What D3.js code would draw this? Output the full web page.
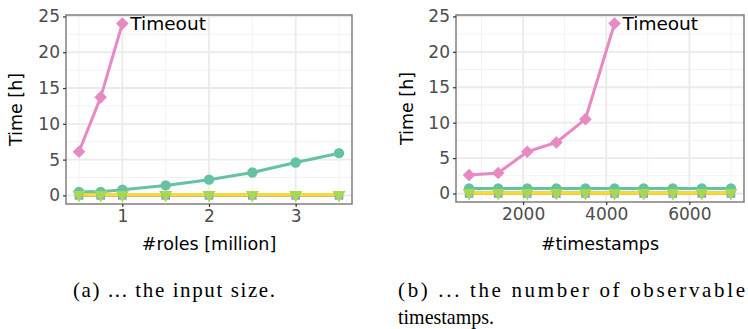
<!DOCTYPE html>
<html>
<head>
<meta charset="utf-8">
<script src="https://cdn.jsdelivr.net/npm/d3@7"></script>
<style>
  body { margin: 0; background: #fff; }
  svg { display: block; }
</style>
</head>
<body>
<svg id="chart" width="748" height="329"></svg>
<script>
const SVG = d3.select('#chart');
const TICK_FONT = 'DejaVu Sans, sans-serif';
const CAPTION_FONT = 'Liberation Serif, serif';

// DATA
const rolesX = [0.5, 0.75, 1, 1.5, 2, 2.5, 3, 3.5];
const rolesPink = [6.1, 13.7, 24];
const rolesGreen = [0.5, 0.5, 0.8, 1.4, 2.2, 3.2, 4.6, 5.9];
const rolesBlue = [0, 0, 0, 0, 0, 0, 0, 0];
const rolesYellow = [0.05, 0.05, 0.05, 0.05, 0.05, 0.05, 0.05, 0.05];
const rolesLime = [0.1, 0.1, 0.1, 0.1, 0.1, 0.1, 0.1, 0.1];

const stampsX = [700, 1400, 2100, 2800, 3500, 4200, 4900, 5600, 6300, 7000];
const stampsPink = [2.6, 2.9, 5.9, 7.2, 10.5, 24];
const stampsGreen = [0.7, 0.7, 0.7, 0.7, 0.7, 0.7, 0.7, 0.7, 0.7, 0.7];
const stampsBlue = [0, 0, 0, 0, 0, 0, 0, 0, 0, 0];
const stampsYellow = [0.05, 0.05, 0.05, 0.05, 0.05, 0.05, 0.05, 0.05, 0.05, 0.05];
const stampsLime = [0.1, 0.1, 0.1, 0.1, 0.1, 0.1, 0.1, 0.1, 0.1, 0.1];

const yTicks = [0, 5, 10, 15, 20, 25];
const rolesTicks = [1, 2, 3];
const stampsTicks = [2000, 4000, 6000];

const COLORS = {
  green: '#66c2a5',
  blue: '#8da0cb',
  pink: '#e78ac3',
  lime: '#a6d854',
  yellow: '#ffd92f'
};

function drawPanel(opt) {
  const g = SVG.append('g');
  const x = d3.scaleLinear().domain(opt.xDomain).range([opt.left, opt.right]);
  const y = d3.scaleLinear().domain([-1.2, 25.2]).range([opt.bottom, opt.top]);

  // minor grid
  const yMinor = [2.5, 7.5, 12.5, 17.5, 22.5];
  g.selectAll('.xminor').data(opt.xMinor).join('line')
    .attr('x1', d => x(d)).attr('x2', d => x(d))
    .attr('y1', opt.top).attr('y2', opt.bottom)
    .attr('stroke', '#f2f2f2').attr('stroke-width', 1);
  g.selectAll('.yminor').data(yMinor).join('line')
    .attr('x1', opt.left).attr('x2', opt.right)
    .attr('y1', d => y(d)).attr('y2', d => y(d))
    .attr('stroke', '#f2f2f2').attr('stroke-width', 1);
  // major grid
  g.selectAll('.xmajor').data(opt.xTicks).join('line')
    .attr('x1', d => x(d)).attr('x2', d => x(d))
    .attr('y1', opt.top).attr('y2', opt.bottom)
    .attr('stroke', '#ebebeb').attr('stroke-width', 1.8);
  g.selectAll('.ymajor').data(yTicks).join('line')
    .attr('x1', opt.left).attr('x2', opt.right)
    .attr('y1', d => y(d)).attr('y2', d => y(d))
    .attr('stroke', '#ebebeb').attr('stroke-width', 1.8);

  const line = d3.line().x(d => x(d[0])).y(d => y(d[1]));
  const zip = (xs, ys) => ys.map((v, i) => [xs[i], v]);

  const series = [
    { key: 'green', data: zip(opt.xs, opt.green), shape: d3.symbolCircle, size: 85 },
    { key: 'blue', data: zip(opt.xs, opt.blue), shape: d3.symbolSquare, size: 75 },
    { key: 'pink', data: zip(opt.xs, opt.pink), shape: d3.symbolSquare, size: 80, rot: 45 },
    { key: 'lime', data: zip(opt.xs, opt.lime), shape: d3.symbolTriangle, size: 75, rot: 180 },
    { key: 'yellow', data: zip(opt.xs, opt.yellow), shape: null }
  ];

  series.forEach(s => {
    g.append('path')
      .datum(s.data)
      .attr('d', line)
      .attr('fill', 'none')
      .attr('stroke', COLORS[s.key])
      .attr('stroke-width', 3);
  });

  series.filter(s => s.shape).forEach(s => {
    g.selectAll(null).data(s.data).join('path')
      .attr('d', d3.symbol().type(s.shape).size(s.size))
      .attr('transform', d => `translate(${x(d[0])},${y(d[1])})` + (s.rot ? ` rotate(${s.rot})` : ''))
      .attr('fill', COLORS[s.key]);
  });

  // timeout label
  const last = series[2].data[series[2].data.length - 1];
  g.append('text')
    .attr('x', x(last[0]) + 8)
    .attr('y', y(last[1]))
    .attr('dy', '0.36em')
    .attr('font-family', TICK_FONT)
    .attr('font-size', 18.5)
    .attr('fill', '#000')
    .text('Timeout');

  // border
  g.append('rect')
    .attr('x', opt.left).attr('y', opt.top)
    .attr('width', opt.right - opt.left).attr('height', opt.bottom - opt.top)
    .attr('fill', 'none').attr('stroke', '#7f7f7f').attr('stroke-width', 1.5);

  // y axis
  const yAxis = g.append('g')
    .attr('transform', `translate(${opt.left},0)`)
    .call(d3.axisLeft(y).tickValues(yTicks).tickSize(3).tickPadding(3));
  yAxis.select('.domain').remove();
  yAxis.selectAll('line').attr('stroke', '#333').attr('stroke-width', 1.2);
  yAxis.selectAll('text')
    .attr('font-family', TICK_FONT).attr('font-size', 17).attr('fill', '#4d4d4d');

  // x axis
  const xAxis = g.append('g')
    .attr('transform', `translate(0,${opt.bottom})`)
    .call(d3.axisBottom(x).tickValues(opt.xTicks).tickFormat(d3.format('d')).tickSize(3).tickPadding(3));
  xAxis.select('.domain').remove();
  xAxis.selectAll('line').attr('stroke', '#333').attr('stroke-width', 1.2);
  xAxis.selectAll('text')
    .attr('font-family', TICK_FONT).attr('font-size', 17).attr('fill', '#4d4d4d');

  // axis titles
  g.append('text')
    .attr('x', (opt.left + opt.right) / 2)
    .attr('y', 250)
    .attr('text-anchor', 'middle')
    .attr('font-family', TICK_FONT).attr('font-size', 17.5)
    .text(opt.xTitle);
  g.append('text')
    .attr('transform', `translate(${opt.yTitleX},${(opt.top + opt.bottom) / 2}) rotate(-90)`)
    .attr('text-anchor', 'middle')
    .attr('font-family', TICK_FONT).attr('font-size', 17.5)
    .text('Time [h]');
}

drawPanel({
  left: 66, right: 352, top: 15, bottom: 204,
  xDomain: [0.35, 3.65],
  xs: rolesX,
  pink: rolesPink, green: rolesGreen, blue: rolesBlue, yellow: rolesYellow, lime: rolesLime,
  xTicks: rolesTicks,
  xMinor: [0.5, 1.5, 2.5, 3.5],
  xTitle: '#roles [million]',
  yTitleX: 22
});

drawPanel({
  left: 456, right: 744, top: 15, bottom: 202,
  xDomain: [385, 7315],
  xs: stampsX,
  pink: stampsPink, green: stampsGreen, blue: stampsBlue, yellow: stampsYellow, lime: stampsLime,
  xTicks: stampsTicks,
  xMinor: [1000, 3000, 5000, 7000],
  xTitle: '#timestamps',
  yTitleX: 413
});

// captions
SVG.append('text')
  .attr('x', 73).attr('y', 297)
  .attr('font-family', CAPTION_FONT).attr('font-size', 21)
  .attr('textLength', 202).attr('lengthAdjust', 'spacing')
  .text('(a) ... the input size.');
SVG.append('text')
  .attr('x', 398).attr('y', 297)
  .attr('font-family', CAPTION_FONT).attr('font-size', 21)
  .attr('textLength', 347).attr('lengthAdjust', 'spacing')
  .text('(b) ... the number of observable');
SVG.append('text')
  .attr('x', 398).attr('y', 324)
  .attr('font-family', CAPTION_FONT).attr('font-size', 21)
  .attr('textLength', 96).attr('lengthAdjust', 'spacingAndGlyphs')
  .text('timestamps.');
</script>
</body>
</html>
